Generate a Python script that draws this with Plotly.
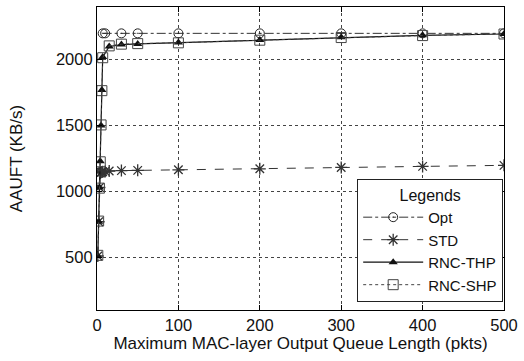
import plotly.graph_objects as go

# Data
opt_x = [7, 10, 30, 50, 100, 200, 300, 400, 500]
opt_y = [2200, 2200, 2200, 2200, 2200, 2200, 2200, 2200, 2200]

std_x = [1, 2, 3, 4, 5, 6, 7, 10, 15, 30, 50, 100, 200, 300, 400, 500]
std_y = [510, 770, 1030, 1140, 1145, 1148, 1150, 1152, 1155, 1158, 1160, 1164, 1172, 1182, 1190, 1198]

thp_x = [1, 2, 3, 4, 5, 6, 7, 15, 30, 50, 100, 200, 300, 400, 500]
thp_y = [510, 770, 1030, 1230, 1500, 1770, 2020, 2100, 2115, 2120, 2130, 2150, 2170, 2185, 2195]

shp_x = [1, 2, 3, 4, 5, 6, 7, 15, 30, 50, 100, 200, 300, 400, 500]
shp_y = [515, 775, 1025, 1225, 1505, 1765, 2015, 2105, 2118, 2122, 2128, 2148, 2168, 2183, 2195]

names = ["Opt", "STD", "RNC-THP", "RNC-SHP"]

x_ticks = [0, 100, 200, 300, 400, 500]
y_ticks = [500, 1000, 1500, 2000]

FONT = "Liberation Sans, Arial, Helvetica, sans-serif"

fig = go.Figure()
fig.add_trace(go.Scatter(
    x=opt_x, y=opt_y, name=names[0], mode="lines+markers",
    line=dict(color="#333333", width=1, dash="dashdot"),
    marker=dict(symbol="circle-dot", size=9, color="rgba(0,0,0,0)",
                line=dict(color="#222222", width=1))))
fig.add_trace(go.Scatter(
    x=std_x, y=std_y, name=names[1], mode="lines+markers",
    line=dict(color="#333333", width=1, dash="dash"),
    marker=dict(symbol="asterisk-open", size=10,
                line=dict(color="#222222", width=1.3))))
fig.add_trace(go.Scatter(
    x=thp_x, y=thp_y, name=names[2], mode="lines+markers",
    line=dict(color="#111111", width=1.2, dash="solid"),
    marker=dict(symbol="triangle-up", size=8, color="#111111")))
fig.add_trace(go.Scatter(
    x=shp_x, y=shp_y, name=names[3], mode="lines+markers",
    line=dict(color="#444444", width=1, dash="dot"),
    marker=dict(symbol="square-open", size=10,
                line=dict(color="#222222", width=1))))

axis_common = dict(
    showline=True, linecolor="black", linewidth=1.2, mirror="ticks",
    ticks="inside", ticklen=5, tickcolor="black",
    showgrid=True, gridcolor="#444444", griddash="dot", gridwidth=1,
    zeroline=False,
    tickfont=dict(family=FONT, size=16.5, color="#111111"),
)

fig.update_xaxes(range=[0, 500], tickvals=x_ticks,
                 title=dict(text="Maximum MAC-layer Output Queue Length (pkts)",
                            font=dict(family=FONT, size=17, color="#111111"),
                            standoff=4),
                 **axis_common)
fig.update_yaxes(range=[100, 2400], tickvals=y_ticks,
                 title=dict(text="AAUFT (KB/s)",
                            font=dict(family=FONT, size=17, color="#111111"),
                            standoff=28),
                 **axis_common)

fig.update_layout(
    width=524, height=361,
    margin=dict(l=97, r=18, t=6, b=51),
    paper_bgcolor="white", plot_bgcolor="white",
    showlegend=True,
    legend=dict(
        title=dict(text="Legends", side="top center",
                   font=dict(family=FONT, size=16, color="#111111")),
        x=0.998, xanchor="right", y=0.026, yanchor="bottom",
        bgcolor="white", bordercolor="#222222", borderwidth=1,
        font=dict(family=FONT, size=15, color="#111111"),
        tracegroupgap=0, itemwidth=60,
    ),
)

fig.write_html("out.html")
